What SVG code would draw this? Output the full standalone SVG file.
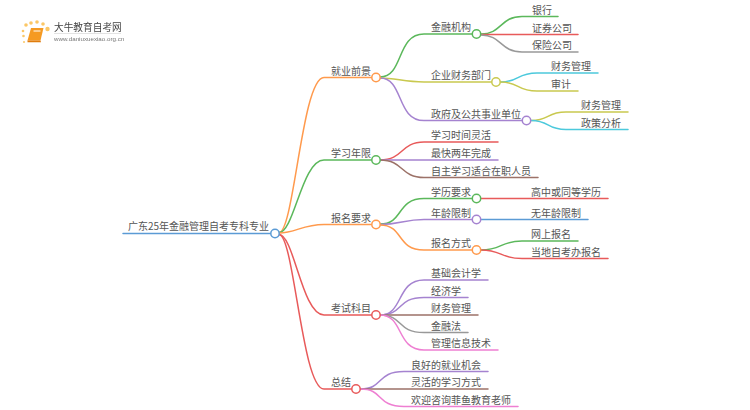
<svg xmlns="http://www.w3.org/2000/svg" width="750" height="410" viewBox="0 0 750 410">
<style>
text{font-family:"Noto Sans CJK SC","Liberation Sans",sans-serif;font-size:10px;fill:#555}
.c{fill:none;stroke-width:1.5;stroke-linecap:round}
.n{fill:#fff;stroke-width:1.5}
.o{stroke:#ff9a4d}.g{stroke:#5bb85b}.y{stroke:#c9c94f}.p{stroke:#a583d0}.r{stroke:#e85a5a}.h{stroke:#999}.s{stroke:#4cc9dc}.b{stroke:#5b9bd5}.w{stroke:#9c7268}.k{stroke:#ee7fd2}
</style>
<defs><filter id="soft" x="-5%" y="-5%" width="110%" height="110%"><feGaussianBlur stdDeviation="0.4"/></filter></defs>
<rect width="750" height="410" fill="#fff"/>
<g id="logo" filter="url(#soft)">
<g fill="#fbc766"><circle cx="26" cy="25" r="1.800"/><circle cx="31" cy="23" r="1.800"/><circle cx="37" cy="22" r="1.800"/><circle cx="43" cy="24" r="1.800"/><circle cx="47.500" cy="29" r="2.200"/><circle cx="23" cy="31" r="1.300"/><circle cx="23.500" cy="36" r="1.300"/><circle cx="24" cy="42" r="1"/></g>
<path d="M31 28h12.500l-3 12.500h-13z" fill="#f59a23"/><path d="M27.500 40.500h13l.5 1.800h-13.500z" fill="#e07b10"/><path d="M33.500 31h7" stroke="#fff" stroke-width="1"/>
<text x="54" y="30.500" style="font-size:9.700px;fill:#444">大牛教育自考网</text>
<rect x="54" y="33" width="67" height="0.800" fill="#ddd"/>
<text x="54" y="41" style="font-size:6.200px;fill:#777;font-family:'Liberation Sans',sans-serif">www.daniuxuexiao.org.cn</text>
</g>
<g id="connectors">
<path class="c b" d="M123 233.500H270.500"/>
<path class="c o" d="M279 232.500C294 232.500 302 77.500 324 77.500H371.500"/>
<path class="c g" d="M279 232.500C294 232.500 302 160 324 160H371.500"/>
<path class="c o" d="M279 233C296 233 302 224.500 324 224.500H371.500"/>
<path class="c r" d="M279 234.500C294 234.500 302 315 324 315H371.500"/>
<path class="c r" d="M279 234.500C294 234.500 302 389 324 389H351.500"/>
<path class="c g" d="M380 77C404 77 396 34 424 34H472"/>
<path class="c y" d="M380 78C396 78 404 82 424 82H491.500"/>
<path class="c p" d="M380 78C404 78 396 120.500 424 120.500H522"/>
<path class="c g" d="M481 34C502 34 500 16.500 522 16.500H558"/>
<path class="c r" d="M481 34.500H578"/>
<path class="c h" d="M481 35C502 35 500 52 522 52H578"/>
<path class="c s" d="M500.500 82C520 82 516 73 537 73H598"/>
<path class="c y" d="M500.500 82C520 82 516 91 537 91H578"/>
<path class="c y" d="M531 120.500C550 120.500 546 112 566 112H628"/>
<path class="c s" d="M531 120.500C550 120.500 546 129.500 566 129.500H628"/>
<path class="c r" d="M380 160C404 160 400 142 424 142H498"/>
<path class="c p" d="M380 160H498"/>
<path class="c w" d="M380 160C404 160 400 177.500 424 177.500H538"/>
<path class="c g" d="M380 224C404 224 396 198.500 424 198.500H472"/>
<path class="c p" d="M380 224.500C400 224.500 404 219.500 424 219.500H472"/>
<path class="c o" d="M380 225C404 225 396 250 424 250H472"/>
<path class="c r" d="M481 198.500H608"/>
<path class="c b" d="M481 219.500H588"/>
<path class="c g" d="M481 250C502 250 500 241 522 241H578"/>
<path class="c r" d="M481 250C502 250 500 258.500 522 258.500H608"/>
<path class="c p" d="M380 315C404 315 396 280 424 280H488"/>
<path class="c p" d="M380 315C404 315 396 297.500 424 297.500H468"/>
<path class="c w" d="M380 315H478"/>
<path class="c h" d="M380 315C404 315 396 332.500 424 332.500H468"/>
<path class="c k" d="M380 315C404 315 396 350 424 350H498"/>
<path class="c p" d="M360.500 389C384 389 376 371.500 404 371.500H488"/>
<path class="c w" d="M360.500 389H488"/>
<path class="c k" d="M360.500 389C384 389 376 406.500 404 406.500H518"/>
</g>
<g id="root"><text x="128" y="230">广东25年金融管理自考专科专业</text><circle class="n b" cx="275" cy="233.500" r="4.200"/></g>
<g id="n1"><text x="331" y="74.500">就业前景</text><circle class="n o" cx="376" cy="77.500" r="4.200"/></g>
<g id="n2"><text x="331" y="157">学习年限</text><circle class="n g" cx="376" cy="160" r="4.200"/></g>
<g id="n3"><text x="331" y="221.500">报名要求</text><circle class="n o" cx="376" cy="224.500" r="4.200"/></g>
<g id="n4"><text x="331" y="312">考试科目</text><circle class="n r" cx="376" cy="315" r="4.200"/></g>
<g id="n5"><text x="331" y="386">总结</text><circle class="n r" cx="356" cy="389" r="4.200"/></g>
<g id="n11"><text x="431" y="31">金融机构</text><circle class="n g" cx="476.500" cy="34" r="4.200"/></g>
<g id="n12"><text x="431" y="79">企业财务部门</text><circle class="n y" cx="496" cy="82" r="4.200"/></g>
<g id="n13"><text x="431" y="117.500">政府及公共事业单位</text><circle class="n p" cx="526.500" cy="120.500" r="4.200"/></g>
<g id="n111"><text x="532" y="13.500">银行</text></g>
<g id="n112"><text x="532" y="31.500">证券公司</text></g>
<g id="n113"><text x="532" y="49">保险公司</text></g>
<g id="n121"><text x="551" y="70">财务管理</text></g>
<g id="n122"><text x="551" y="88">审计</text></g>
<g id="n131"><text x="581" y="109">财务管理</text></g>
<g id="n132"><text x="581" y="126.500">政策分析</text></g>
<g id="n21"><text x="431" y="139">学习时间灵活</text></g>
<g id="n22"><text x="431" y="157">最快两年完成</text></g>
<g id="n23"><text x="431" y="174.500">自主学习适合在职人员</text></g>
<g id="n31"><text x="431" y="195.500">学历要求</text><circle class="n g" cx="476.500" cy="198.500" r="4.200"/></g>
<g id="n32"><text x="431" y="216.500">年龄限制</text><circle class="n p" cx="476.500" cy="219.500" r="4.200"/></g>
<g id="n33"><text x="431" y="247">报名方式</text><circle class="n o" cx="476.500" cy="250" r="4.200"/></g>
<g id="n311"><text x="531" y="195.500">高中或同等学历</text></g>
<g id="n321"><text x="531" y="216.500">无年龄限制</text></g>
<g id="n331"><text x="531" y="238">网上报名</text></g>
<g id="n332"><text x="531" y="255.500">当地自考办报名</text></g>
<g id="n41"><text x="431" y="277">基础会计学</text></g>
<g id="n42"><text x="431" y="294.500">经济学</text></g>
<g id="n43"><text x="431" y="312">财务管理</text></g>
<g id="n44"><text x="431" y="329.500">金融法</text></g>
<g id="n45"><text x="431" y="347">管理信息技术</text></g>
<g id="n51"><text x="411" y="368.500">良好的就业机会</text></g>
<g id="n52"><text x="411" y="386">灵活的学习方式</text></g>
<g id="n53"><text x="411" y="403.500">欢迎咨询菲鱼教育老师</text></g>
</svg>
